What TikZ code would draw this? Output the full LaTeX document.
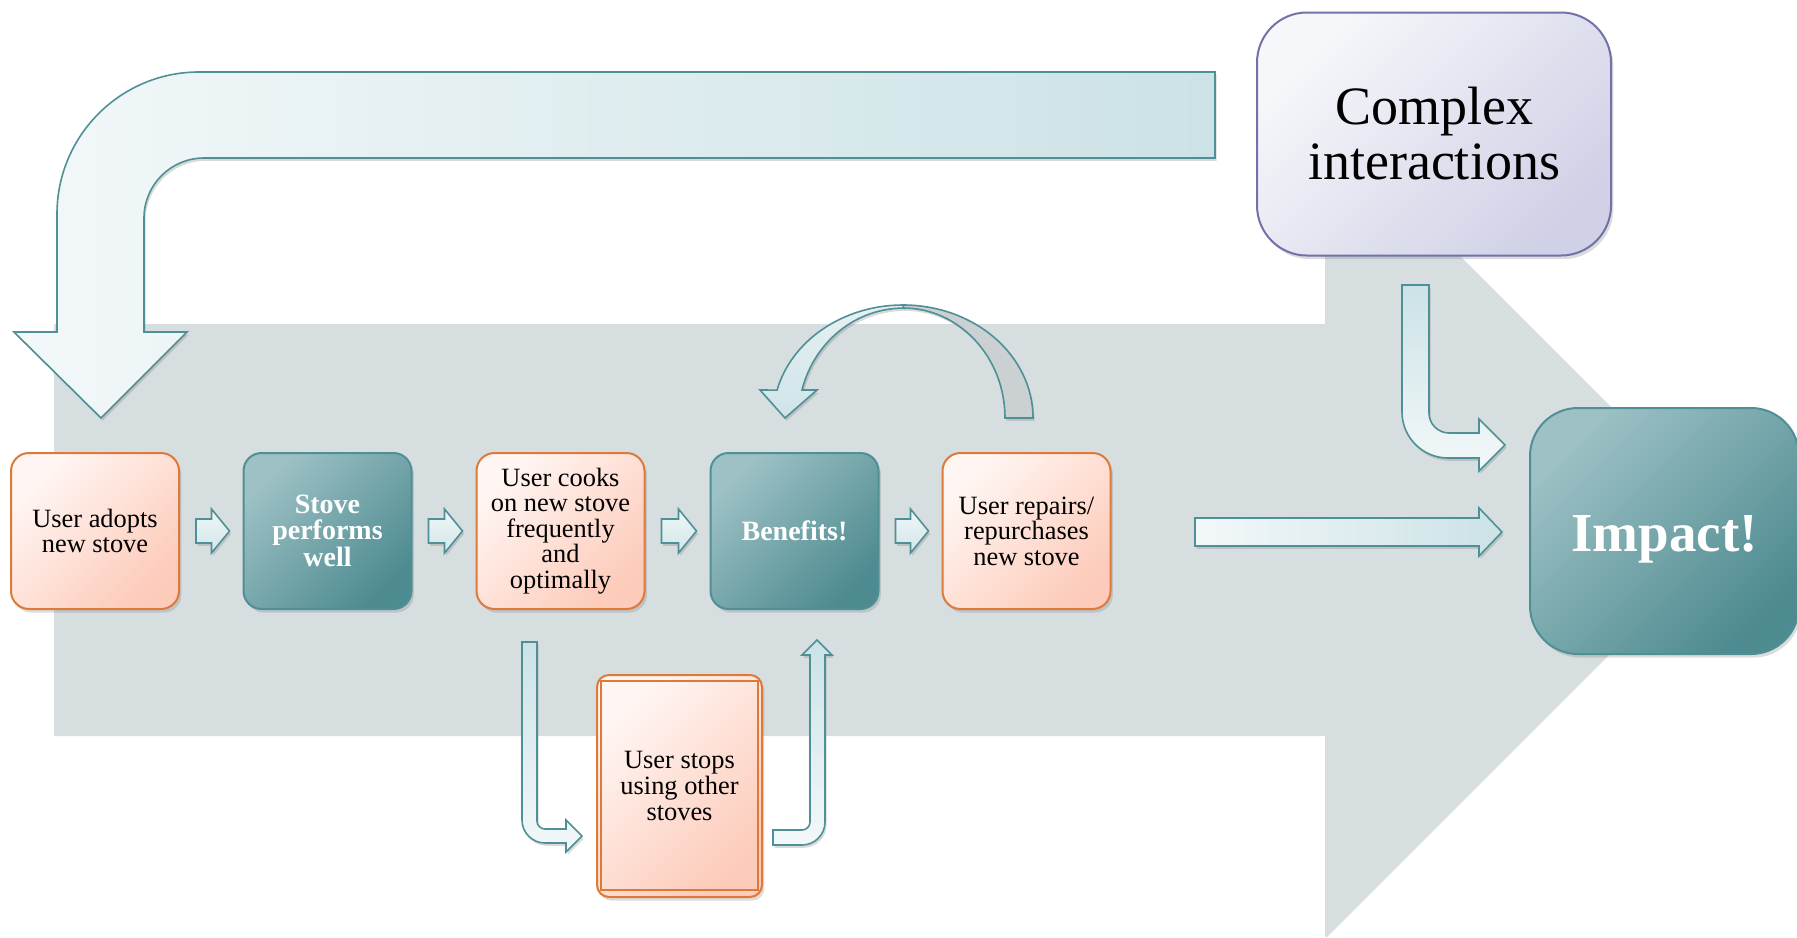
\documentclass[tikz,border=0pt]{standalone}
\usepackage{fontspec}
\setmainfont{Liberation Serif}
\usetikzlibrary{shadows,calc}
\definecolor{bg}{HTML}{D6DEE0}
\definecolor{tealA}{HTML}{9DC1C5}
\definecolor{tealB}{HTML}{4E8B90}
\definecolor{tealline}{HTML}{4F9096}
\definecolor{orA}{HTML}{FFF6F3}
\definecolor{orB}{HTML}{FDCBBA}
\definecolor{orline}{HTML}{DD7A3A}
\definecolor{puA}{HTML}{F6F7FA}
\definecolor{puB}{HTML}{D0D1E6}
\definecolor{puline}{HTML}{7272A8}
\definecolor{arA}{HTML}{F3F8F9}
\definecolor{arB}{HTML}{CCE2E6}
\definecolor{arline}{HTML}{4F9096}
\definecolor{sA}{HTML}{EEF6F7}
\definecolor{sB}{HTML}{D3E6E9}
\definecolor{cA}{HTML}{E6F0F2}
\definecolor{cB}{HTML}{CFE4E8}
\definecolor{curvegray}{HTML}{CBD0D2}
\tikzset{
 shad/.style={drop shadow={shadow xshift=1.2pt, shadow yshift=-1.8pt, opacity=0.28}},
 ashad/.style={drop shadow={shadow xshift=0.8pt, shadow yshift=-1.4pt, opacity=0.3}},
 blockarrow/.style={draw=arline, line width=0.8pt, line join=miter, ashad},
 tealbox/.style={draw=tealline, line width=1pt, rounded corners=9pt, top color=tealA, bottom color=tealB, shading angle=45, minimum width=84pt, minimum height=78pt, inner sep=2pt, align=center, text=white, font=\bfseries\fontsize{14}{12.6}\selectfont, shad},
 orbox/.style={draw=orline, line width=1pt, rounded corners=9pt, top color=orA, bottom color=orB, shading angle=45, minimum width=84pt, minimum height=78pt, inner sep=2pt, align=center, font=\fontsize{13.2}{12.8}\selectfont, shad},
 cbox/.style={draw=puline, line width=1pt, rounded corners=25pt, top color=puA, bottom color=puB, shading angle=45, minimum width=177pt, minimum height=121.5pt, align=center, font=\fontsize{27}{27.5}\selectfont, shad},
}
\newcommand\smallarr[2]{\path[blockarrow, top color=sA, bottom color=sB] let \p1=(#1.east), \p2=(#2.west) in
 (\x1+8pt,\y1+6pt) -- (\x2-15.5pt,\y1+6pt) -- (\x2-15.5pt,\y1+11pt) -- (\x2-6.5pt,\y1) -- (\x2-15.5pt,\y1-11pt) -- (\x2-15.5pt,\y1-6pt) -- (\x1+8pt,\y1-6pt) -- cycle;}
\begin{document}
\begin{tikzpicture}[x=0.5pt,y=-0.5pt]
\useasboundingbox (0,0) rectangle (1797,937);
% background arrow
\fill[bg] (54,324) -- (1325,324) -- (1325,121) -- (1734,530) -- (1327,937) -- (1325,937) -- (1325,736) -- (54,736) -- cycle;
% top U arrow
\path[blockarrow, left color=arA, right color=arB] (1215,72) -- (199,72) .. controls (120.6,72) and (57,135.6) .. (57,214) -- (57,332) -- (14,332) -- (101,418) -- (187,332) -- (144,332) -- (144,218) .. controls (144,184.9) and (170.9,158) .. (204,158) -- (1215,158) -- cycle;
% curved arrow over Benefits
\path[blockarrow, fill=curvegray] (903,305) arc[start angle=270,end angle=360,x radius=130,y radius=113] -- (1005,418) arc[start angle=0,end angle=-90,x radius=102,y radius=110] -- cycle;
\path[blockarrow, top color=cA, bottom color=cB] (903,305) arc[start angle=270,end angle=194.3,x radius=130,y radius=113] -- (760,390) -- (785,418) -- (817,390) -- (802,390) arc[start angle=194.8,end angle=270,x radius=105,y radius=110] -- cycle;
% nodes
\node[orbox] (adopt) at (95,531) {User adopts\\new stove};
\node[tealbox] (perf) at (327.5,531) {Stove\\performs\\well};
\node[orbox] (cook) at (560.5,531) {User cooks\\on new stove\\frequently\\and\\optimally};
\node[tealbox] (ben) at (794.5,531) {Benefits!};
\node[orbox] (rep) at (1026.5,531) {User repairs/\\repurchases\\new stove};
\node[orbox, minimum width=82.5pt, minimum height=111pt, rounded corners=6pt] (stop) at (679.5,786) {User stops\\using other\\stoves};
\draw[orline, line width=0.9pt] ([shift={(5,7)}]stop.north west) rectangle ([shift={(-5,-8)}]stop.south east);
\node[cbox] (cx) at (1434,134) {Complex\\interactions};
\node[tealbox, minimum width=134.5pt, minimum height=123pt, rounded corners=24pt, font=\bfseries\fontsize{27.5}{28}\selectfont] (imp) at (1664.5,531) {\raisebox{-10pt}[10pt][10pt]{Impact!}};
% small arrows between boxes
\smallarr{adopt}{perf}
\smallarr{perf}{cook}
\smallarr{cook}{ben}
\smallarr{ben}{rep}
% big arrow to impact
\path[blockarrow, left color=arA, right color=arB] (1195,518) -- (1479,518) -- (1479,508) -- (1502,532) -- (1479,556) -- (1479,546) -- (1195,546) -- cycle;
% elbow complex -> impact
\path[blockarrow, top color=arB, bottom color=arA] (1402,285) -- (1429,285) -- (1429,413) .. controls (1429,424) and (1438,433) .. (1449,433) -- (1479,433) -- (1479,419) -- (1505,445) -- (1479,471) -- (1479,458) -- (1448,458) .. controls (1422.6,458) and (1402,437.4) .. (1402,412) -- cycle;
% elbow cook -> stop
\path[blockarrow, top color=arB, bottom color=arA] (522,642) -- (537,642) -- (537,821) .. controls (537,825.4) and (540.6,829) .. (545,829) -- (566,829) -- (566,820) -- (582,836) -- (566,852) -- (566,843) -- (545,843) .. controls (532.3,843) and (522,832.7) .. (522,820) -- cycle;
% elbow stop -> benefits
\path[blockarrow, top color=arB, bottom color=arA] (773,830) -- (802,830) .. controls (806.4,830) and (810,826.4) .. (810,822) -- (810,655) -- (802,655) -- (817,640) -- (832,655) -- (825,655) -- (825,822) .. controls (825,834.7) and (814.7,845) .. (802,845) -- (773,845) -- cycle;
\end{tikzpicture}
\end{document}
